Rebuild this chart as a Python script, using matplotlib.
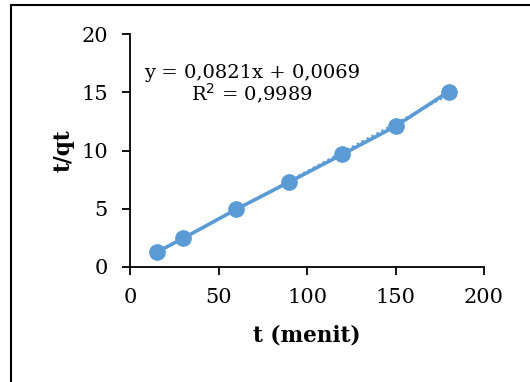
import matplotlib
matplotlib.use("Agg")
import matplotlib.pyplot as plt
from matplotlib.lines import Line2D
import numpy as np

t_values = [15, 30, 60, 90, 120, 150, 180]
t_qt_values = [1.26, 2.46, 4.95, 7.30, 9.67, 12.08, 15.05]
slope = 0.0821
intercept = 0.0069
r_squared = "0,9989"
x_ticks = [0, 50, 100, 150, 200]
y_ticks = [0, 5, 10, 15, 20]

color = "#5B9BD5"
plt.rcParams['font.family'] = ['DejaVu Serif']

W, H = 530, 382
fig = plt.figure(figsize=(W / 100, H / 100), dpi=100)
ax = fig.add_axes([130 / W, 1 - 267 / H, (484 - 130) / W, (267 - 34) / H])

# trendline (dotted)
tx = np.array([t_values[0], t_values[-1]])
ax.plot(tx, slope * tx + intercept, linestyle=(0, (1, 1.5)), color=color, lw=1.6, zorder=2)
# data
ax.plot(t_values, t_qt_values, '-o', color=color, lw=2.6, markersize=11, zorder=3,
        clip_on=False)

ax.set_xlim(0, 200)
ax.set_ylim(0, 20)
ax.set_xticks(x_ticks)
ax.set_yticks(y_ticks)
ax.tick_params(direction='out', length=6, width=1.3, labelsize=15, color='black')
ax.tick_params(axis='x', pad=9)
ax.tick_params(axis='y', pad=10)
for s in ['top', 'right']:
    ax.spines[s].set_visible(False)
for s in ['left', 'bottom']:
    ax.spines[s].set_linewidth(1.3)

ax.set_xlabel("t (menit)", fontsize=15.5, fontweight='bold', labelpad=13)
ax.set_ylabel("t/qt", fontsize=15.5, fontweight='bold', labelpad=5)

fig.text(252 / W, 1 - 85 / H,
         "y = 0,0821x + 0,0069\nR$^2$ = " + r_squared,
         ha='center', va='center', fontsize=14, linespacing=1.0)

# outer frame (top and left edges visible)
fig.add_artist(Line2D([11 / W, 1.0], [1 - 5 / H, 1 - 5 / H], color='black', lw=1.5,
                      transform=fig.transFigure))
fig.add_artist(Line2D([11 / W, 11 / W], [1 - 5 / H, 0.0], color='black', lw=1.5,
                      transform=fig.transFigure))

fig.savefig("out.png", dpi=100)
